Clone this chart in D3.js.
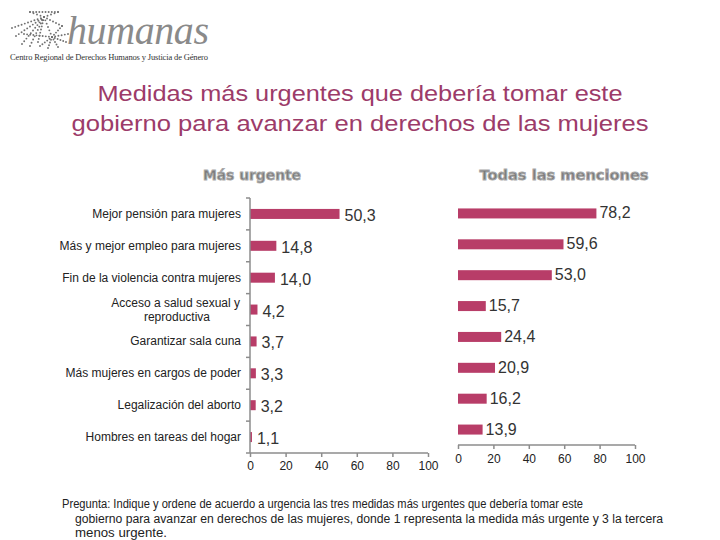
<!DOCTYPE html>
<html><head><meta charset="utf-8">
<script src="https://cdn.jsdelivr.net/npm/d3@7"></script>
<style>body{margin:0;background:#fff}svg{display:block}</style>
</head><body>
<svg id="c" width="720" height="540"></svg>
<script>
const categories = ["Mejor pensión para mujeres","Más y mejor empleo para mujeres","Fin de la violencia contra mujeres","Acceso a salud sexual y reproductiva","Garantizar sala cuna","Más mujeres en cargos de poder","Legalización del aborto","Hombres en tareas del hogar"];
const masUrgente = [50.3,14.8,14.0,4.2,3.7,3.3,3.2,1.1];
const todasMenciones = [78.2,59.6,53.0,15.7,24.4,20.9,16.2,13.9];
const xTicks = [0,20,40,60,80,100];
const titleLines = ["Medidas más urgentes que debería tomar este","gobierno para avanzar en derechos de las mujeres"];
const panelTitles = ["Más urgente","Todas las menciones"];
const noteLines = ["Pregunta: Indique y ordene de acuerdo a urgencia las tres medidas más urgentes que debería tomar este","gobierno para avanzar en derechos de las mujeres, donde 1 representa la medida más urgente y 3 la tercera","menos urgente."];

const svg = d3.select("#c");
const barColor = "#b83d68", axisColor = "#8c8c8c", font = "'Liberation Sans', Arial, sans-serif";
const fmt = v => d3.format(".1f")(v).replace(".", ",");

// Logo (decorative dotted web)
const logo = svg.append("g").attr("fill", "#707070");
function dotted(x1, y1, x2, y2, step) {
  const len = Math.hypot(x2 - x1, y2 - y1), n = Math.max(1, Math.round(len / step));
  for (let k = 0; k <= n; k++) {
    logo.append("circle").attr("cx", x1 + (x2 - x1) * k / n).attr("cy", y1 + (y2 - y1) * k / n).attr("r", 0.95);
  }
}
dotted(30, 12, 58, 12, 3.2);
const hub1 = [44, 17];
[[12, 28], [16, 36], [22, 44], [30, 46], [38, 42], [30, 12], [58, 12], [62, 26], [52, 37]].forEach(p => dotted(hub1[0], hub1[1], p[0], p[1], 3.4));
const hub2 = [52, 37];
[[40, 46], [48, 48], [58, 47], [66, 42], [68, 34], [24, 34], [62, 26]].forEach(p => dotted(hub2[0], hub2[1], p[0], p[1], 3.2));
logo.append("text").attr("x", 67).attr("y", 44).attr("font-family", "'Liberation Serif', serif")
  .attr("font-style", "italic").attr("font-size", 40).attr("fill", "#8a8a8a").attr("textLength", 142).text("humanas");
logo.append("text").attr("x", 10).attr("y", 60).attr("font-family", "'Liberation Serif', serif")
  .attr("font-size", 8.5).attr("fill", "#333").attr("textLength", 198).text("Centro Regional de Derechos Humanos y Justicia de Género");

// Title
const titleLen = [525, 577];
svg.append("g").selectAll("text").data(titleLines).join("text")
  .attr("x", 360).attr("y", (d, i) => 101 + i * 30).attr("text-anchor", "middle")
  .attr("font-family", font).attr("font-size", 22).attr("fill", "#9c3b69")
  .attr("textLength", (d, i) => titleLen[i]).attr("lengthAdjust", "spacingAndGlyphs").text(d => d);

// Panel titles
const ptX = [252, 564], ptLen = [98, 169];
svg.append("g").selectAll("text").data(panelTitles).join("text")
  .attr("x", (d, i) => ptX[i]).attr("y", 180).attr("text-anchor", "middle")
  .attr("font-family", "'DejaVu Sans', Verdana, sans-serif").attr("font-weight", "bold").attr("font-size", 14)
  .attr("fill", "#7a7a7a").attr("stroke", "#aaa").attr("stroke-width", 0.9)
  .attr("textLength", (d, i) => ptLen[i]).attr("lengthAdjust", "spacingAndGlyphs").text(d => d);

// Left panel
const xL = d3.scaleLinear().domain([0, 100]).range([250, 428]);
const yL = d3.scaleBand().domain(categories).range([198, 453]).paddingInner(0.686).paddingOuter(0.343);
const gL = svg.append("g");
gL.selectAll("rect").data(masUrgente).join("rect")
  .attr("x", xL(0)).attr("y", (d, i) => yL(categories[i])).attr("width", d => xL(d) - xL(0))
  .attr("height", yL.bandwidth()).attr("fill", barColor);
gL.selectAll("text.v").data(masUrgente).join("text").attr("class", "v")
  .attr("x", d => xL(d) + 5).attr("y", (d, i) => yL(categories[i]) + yL.bandwidth() / 2 + 7)
  .attr("font-family", font).attr("font-size", 16).attr("fill", "#333").text(d => fmt(d));
// category labels
gL.selectAll("text.c").data(categories).join("text").attr("class", "c")
  .attr("text-anchor", "end").attr("font-family", font).attr("font-size", 12).attr("fill", "#222")
  .each(function (d) {
    const t = d3.select(this);
    const yc = yL(d) + yL.bandwidth() / 2;
    if (d === "Acceso a salud sexual y reproductiva") {
      t.append("tspan").attr("x", 240).attr("y", yc - 3).text("Acceso a salud sexual y");
      t.append("tspan").attr("x", 210).attr("y", yc + 11).text("reproductiva");
    } else {
      t.attr("x", 241).attr("y", yc + 4).text(d);
    }
  });
// vertical axis
gL.append("line").attr("x1", 250).attr("x2", 250).attr("y1", yL.range()[0]).attr("y2", yL.range()[1])
  .attr("stroke", axisColor).attr("stroke-width", 1.5);
const bounds = d3.range(categories.length + 1).map(i => yL.range()[0] + i * yL.step());
gL.selectAll("line.t").data(bounds).join("line").attr("class", "t")
  .attr("x1", 246).attr("x2", 250).attr("y1", d => d).attr("y2", d => d).attr("stroke", axisColor).attr("stroke-width", 1.5);
const axL = svg.append("g").attr("transform", "translate(0,453)")
  .call(d3.axisBottom(xL).tickValues(xTicks).tickSize(4).tickPadding(4));
// Right panel
const xR = d3.scaleLinear().domain([0, 100]).range([458, 635]);
const yR = d3.scaleBand().domain(categories).range([198, 445]).paddingInner(0.676).paddingOuter(0.338);
const gR = svg.append("g");
gR.selectAll("rect").data(todasMenciones).join("rect")
  .attr("x", xR(0)).attr("y", (d, i) => yR(categories[i])).attr("width", d => xR(d) - xR(0))
  .attr("height", yR.bandwidth()).attr("fill", barColor);
gR.selectAll("text.v").data(todasMenciones).join("text").attr("class", "v")
  .attr("x", d => xR(d) + 3).attr("y", (d, i) => yR(categories[i]) + yR.bandwidth() / 2 + 5)
  .attr("font-family", font).attr("font-size", 16).attr("fill", "#333").text(d => fmt(d));
const axR = svg.append("g").attr("transform", "translate(0,445)")
  .call(d3.axisBottom(xR).tickValues(xTicks).tickSize(4).tickPadding(5));

[axL, axR].forEach(a => {
  a.select(".domain").attr("stroke", axisColor).attr("stroke-width", 1.5).attr("d", function () {
    const r = a === axL ? xL.range() : xR.range();
    return `M${r[0]},0H${r[1]}`;
  });
  a.selectAll(".tick line").attr("stroke", axisColor).attr("stroke-width", 1.5);
  a.selectAll(".tick text").attr("font-family", font).attr("font-size", 12).attr("fill", "#222");
});

// Note
svg.append("g").selectAll("text").data(noteLines).join("text")
  .attr("x", (d, i) => i === 0 ? 62 : 75).attr("y", (d, i) => 508 + i * 14.5)
  .attr("font-family", font).attr("font-size", 12).attr("fill", "#222")
  .attr("textLength", (d, i) => [521, 588, 92][i]).attr("lengthAdjust", "spacingAndGlyphs").text(d => d);
</script>
</body></html>
